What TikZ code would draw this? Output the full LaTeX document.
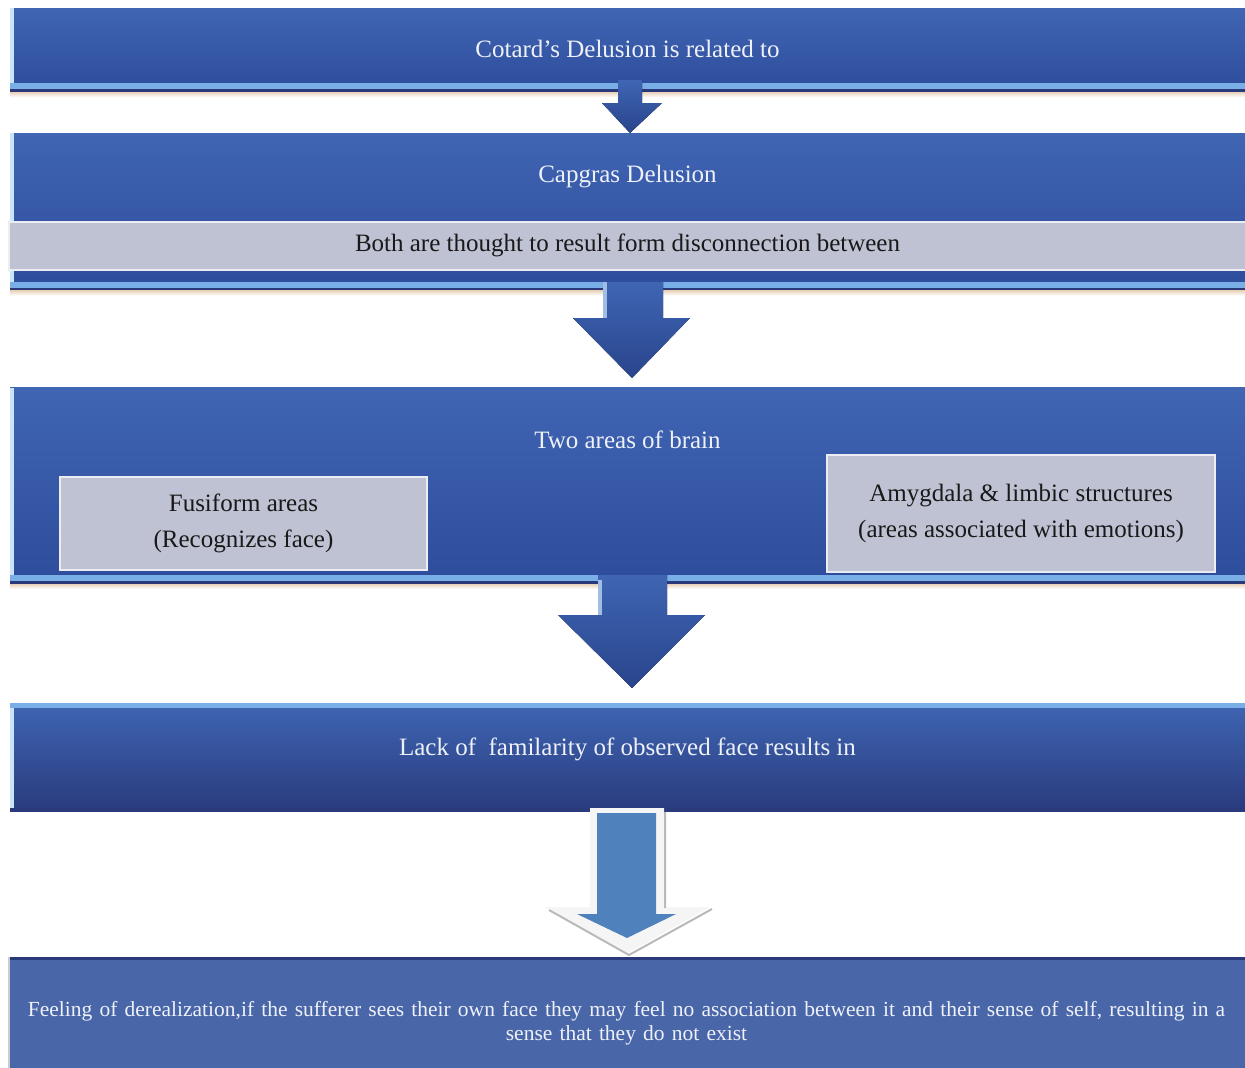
\documentclass[tikz,border=0pt]{standalone}
\usepackage{fontspec}
\setmainfont{Liberation Serif}
\usetikzlibrary{positioning}

\definecolor{bandtop}{HTML}{3F65B3}
\definecolor{bandbot}{HTML}{2E4C9C}
\definecolor{bandedge}{HTML}{C9E3F7}
\definecolor{bandstrip}{HTML}{7AAEE6}
\definecolor{banddark}{HTML}{29397A}
\definecolor{greyfill}{HTML}{BEC2D3}
\definecolor{lastfill}{HTML}{4966A8}
\definecolor{palearrow}{HTML}{4F81BD}
\definecolor{titletext}{HTML}{EEF1F8}

% light left edge, bottom strip and shadow of a blue band
\newcommand\bandtrim[1]{%
  \fill[bandedge] (#1.north west) rectangle ([xshift=4pt]#1.south west);
  \fill[bandstrip] ([yshift=3pt]#1.south west) rectangle ([yshift=9pt]#1.south east);
  \fill[banddark] (#1.south west) rectangle ([yshift=3pt]#1.south east);
  \fill[top color=brown!35,bottom color=white] (#1.south west) rectangle ([yshift=-5pt]#1.south east);
}

\begin{document}
\begin{tikzpicture}[x=1pt,y=-1pt,
    band/.style={rectangle,inner sep=0pt,minimum width=1235pt,top color=bandtop,bottom color=bandbot,text=titletext},
    greybar/.style={rectangle,inner sep=0pt,fill=greyfill,draw=white!70!greyfill,line width=1.5pt,font=\fontsize{25}{30}\selectfont,text=black!90,align=center},
    title/.style={inner sep=0pt,font=\fontsize{25}{30}\selectfont,text=titletext},
    darkarrow/.style={top color=bandtop,bottom color=bandbot!90!black},
    node distance=41pt]
  \useasboundingbox (0,0) rectangle (1245,1068);

  % blue bands
  \node[band,minimum height=84pt] (cotard) at (627.5,50) {};
  \node[band,minimum height=157pt,below=41pt of cotard] (capgras) {};
  \node[band,minimum height=196pt,below=97pt of capgras] (brain) {};
  \node[band,minimum height=108pt,below=119pt of brain,bottom color=banddark!90!bandbot] (lack) {};
  \node[rectangle,inner sep=0pt,minimum width=1237pt,minimum height=111pt,fill=lastfill] (feeling) at (626.5,1012.5) {};

  \bandtrim{cotard}
  \bandtrim{capgras}
  \bandtrim{brain}
  \fill[bandedge] (lack.north west) rectangle ([xshift=4pt]lack.south west);
  \fill[bandstrip] (lack.north west) rectangle ([yshift=-5pt]lack.north east);
  \fill[banddark] (lack.south west) rectangle ([yshift=3pt]lack.south east);
  \fill[banddark] (feeling.north west) rectangle ([yshift=-3pt]feeling.north east);
  \fill[gray!40] (feeling.north west) rectangle ([xshift=2pt]feeling.south west);

  % texts of the bands
  \node[title] (cotardtext) at ([yshift=1pt]cotard.center) {Cotard's Delusion is related to};
  \node[title] (capgrastext) at ([yshift=35pt]capgras.center) {Capgras Delusion};
  \node[greybar,minimum width=1237pt,minimum height=48pt,above=20pt of capgras.south] (both) {Both are thought to result form disconnection between};
  \node[title] (braintext) at ([yshift=46pt]brain.center) {Two areas of brain};
  \node[greybar,minimum width=367pt,minimum height=93pt] (fusiform) at (243.5,523.5) {Fusiform areas\\[6pt](Recognizes face)};
  \node[greybar,minimum width=388pt,minimum height=117pt] (amygdala) at (1021,513.5) {Amygdala \& limbic structures\\[6pt](areas associated with emotions)};
  \node[title] (lacktext) at ([yshift=8pt]lack.center) {Lack of \ familarity of observed face results in};
  \node[inner sep=0pt,text width=1230pt,align=center,font=\fontsize{21.5}{24}\selectfont,text=titletext] (feelingtext) at ([yshift=-11pt]feeling.center)
    {Feeling of derealization,if the sufferer sees their own face they may feel no association between it and their sense of self, resulting in a\\sense that they do not exist};

  % block arrows
  \fill[darkarrow] (618,80) -- (642,80) -- (642,103) -- (662,103) -- (630,133) -- (602,103) -- (618,103) -- cycle;
  \fill[darkarrow] (603,282) -- (663,282) -- (663,318) -- (690,318) -- (632,378) -- (573,318) -- (603,318) -- cycle;
  \fill[bandedge!70!bandtop] (603,282) rectangle (607,318);
  \fill[darkarrow] (598,575) -- (667,575) -- (667,615) -- (705,615) -- (632,688) -- (558,615) -- (598,615) -- cycle;
  \fill[bandedge!70!bandtop] (598,580) rectangle (602,615);
  \fill[gray!8] (590,808) -- (664,808) -- (664,907) -- (710,907) -- (628,953) -- (545,907) -- (590,907) -- cycle;
  \draw[gray!55,line width=2pt] (665,812) -- (665,908) (712,909) -- (629,955) -- (549,910);
  \fill[palearrow] (597,813) -- (656,813) -- (656,914) -- (676,914) -- (627,938) -- (577,914) -- (597,914) -- cycle;
\end{tikzpicture}
\end{document}
